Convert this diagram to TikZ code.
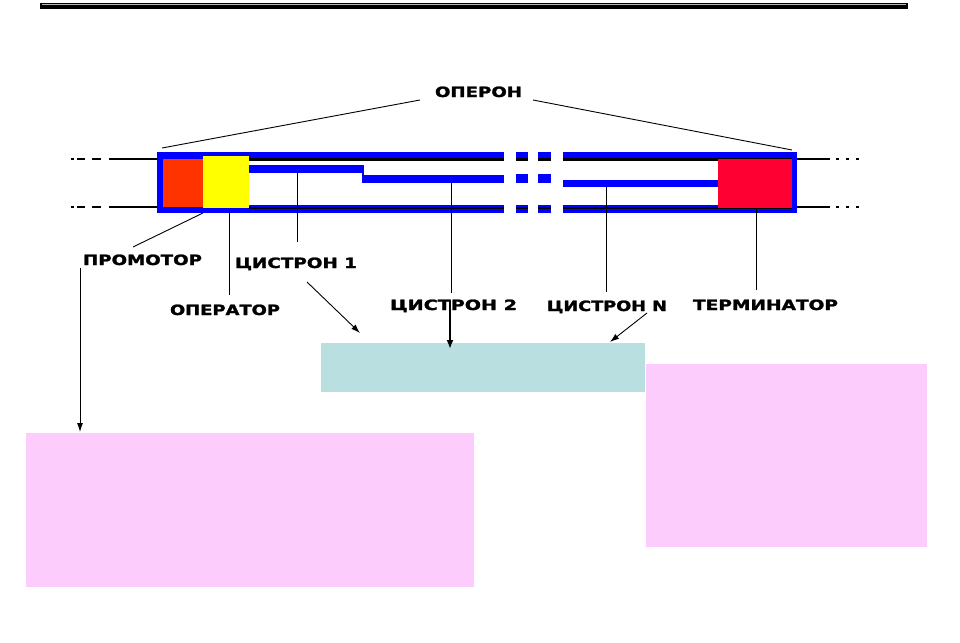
\documentclass[tikz,border=0pt]{standalone}
\usepackage{fontspec}
\setmainfont{DejaVu Sans}
\newfontfamily\lblfont{DejaVu Sans Bold}[FakeBold=1.6]
\usetikzlibrary{arrows.meta}
\definecolor{dnablue}{HTML}{0000FF}
\definecolor{promred}{HTML}{FF3300}
\definecolor{opyellow}{HTML}{FFFF00}
\definecolor{termred}{HTML}{FF0033}
\definecolor{boxcyan}{HTML}{BADFE1}
\definecolor{boxpink}{HTML}{FCCCFC}
\newcommand\lbltext[2]{\resizebox{#1pt}{10.5pt}{\lblfont #2}}
\tikzset{
  lbl/.style={inner sep=0pt, outer sep=0pt, anchor=base west},
  conn/.style={draw=black, line width=0.9pt},
  arr/.style={draw=black, line width=0.9pt, -{Latex[length=9pt,width=6pt]}},
  arrthick/.style={draw=black, line width=1.8pt, -{Latex[length=9pt,width=7pt]}},
  dna/.style={draw=black, line width=2pt},
  areabox/.style={inner sep=0pt, outer sep=0pt, draw=none}
}
\begin{document}
\begin{tikzpicture}[x=1pt,y=-1pt]
\useasboundingbox (0,0) rectangle (960,642);
% header bar
\fill[black] (40,3) rectangle (908,9);
\draw[gray!55, line width=0.7pt] (42,4.6) -- (906,4.6);

% DNA strands outside the operon
\draw[dna] (109,159) -- (157,159);
\draw[dna] (109,207) -- (157,207);
\draw[dna] (71,159) -- (74,159) (77,159) -- (85,159) (92,159) -- (101,159);
\draw[dna] (71,207) -- (74,207) (77,207) -- (85,207) (92,207) -- (101,207);
\draw[dna] (797,159) -- (830,159);
\draw[dna] (797,207) -- (830,207);
\draw[dna] (836,159) -- (839,159) (846,159) -- (849,159) (856,159) -- (859,159);
\draw[dna] (836,207) -- (839,207) (846,207) -- (849,207) (856,207) -- (859,207);

% operon frame: top and bottom bands with gaps
\foreach \a/\b in {157/504, 516/528, 538/551, 563/797}{
  \fill[dnablue] (\a,152) rectangle (\b,158.6);
  \fill[dnablue] (\a,205) rectangle (\b,213);
}
\foreach \a/\b in {249/504, 516/528, 538/551, 563/792}{
  \fill[black] (\a,158.4) rectangle (\b,160.6);
  \fill[black] (\a,206.8) rectangle (\b,209.4);
}
\fill[dnablue] (157,152) rectangle (162.5,213);
\fill[dnablue] (791.5,152) rectangle (797,213);

% promoter, operator, terminator
\fill[promred] (162.5,158.5) rectangle (203,207);
\fill[opyellow] (203,155.8) rectangle (249,208);
\fill[termred] (718,159) rectangle (791.5,208);

% cistron line
\fill[dnablue] (249,165) rectangle (364,173.3);
\fill[dnablue] (361.7,165) rectangle (364,183.3);
\fill[dnablue] (361.7,175) rectangle (504,183.3);
\fill[dnablue] (516,174.3) rectangle (528,183.3);
\fill[dnablue] (538,174.3) rectangle (551,183.3);
\fill[dnablue] (563,180) rectangle (718,187.3);

% anchor points on the operon
\coordinate (opL) at (162,148);
\coordinate (opR) at (792,150);
\coordinate (promPt) at (203,213);
\coordinate (operPt) at (229,209);
\coordinate (cis1Pt) at (297,173);
\coordinate (cis2Pt) at (451.5,183);
\coordinate (cisNPt) at (606,187);
\coordinate (termPt) at (756,208);

% labels
\node[lbl] (operon) at (435,97) {\lbltext{87}{ОПЕРОН}};
\node[lbl] (prom) at (83,265) {\lbltext{119}{ПРОМОТОР}};
\node[lbl] (oper) at (170,315) {\lbltext{110}{ОПЕРАТОР}};
\node[lbl] (cis1) at (235,268) {\lbltext{122}{ЦИСТРОН 1}};
\node[lbl] (cis2) at (390,310) {\lbltext{127}{ЦИСТРОН 2}};
\node[lbl] (cisN) at (547,311) {\lbltext{120}{ЦИСТРОН N}};
\node[lbl] (term) at (693,310) {\lbltext{145}{ТЕРМИНАТОР}};

% label ends of connectors
\coordinate (operonL) at (420,100);
\coordinate (operonR) at (533,100);
\coordinate (promEnd) at (133,247);
\coordinate (operEnd) at (229,295);
\coordinate (cis1End) at (297,242);
\coordinate (cis2End) at (451.5,293);
\coordinate (cisNEnd) at (606,292);
\coordinate (termEnd) at (756,290);

\draw[conn] (operonL) -- (opL);
\draw[conn] (operonR) -- (opR);
\draw[conn] (promPt) -- (promEnd);
\draw[conn] (operPt) -- (operEnd);
\draw[conn] (cis1Pt) -- (cis1End);
\draw[conn] (cis2Pt) -- (cis2End);
\draw[conn] (cisNPt) -- (cisNEnd);
\draw[conn] (termPt) -- (termEnd);

% boxes
\node[areabox, fill=boxcyan, minimum width=324pt, minimum height=49pt] (cyanbox) at (483,367.5) {};
\node[areabox, fill=boxpink, minimum width=448pt, minimum height=154pt] (leftbox) at (250,510) {};
\node[areabox, fill=boxpink, minimum width=281pt, minimum height=183pt] (rightbox) at (786.5,455.5) {};

% arrows
\coordinate (promStart) at (80,268);
\coordinate (promTip) at (80,432);
\coordinate (cis1Start) at (307,282);
\coordinate (cis1Tip) at (360,333);
\coordinate (cis2Start) at (450,300);
\coordinate (cis2Tip) at (450,349);
\coordinate (cisNStart) at (647,313);
\coordinate (cisNTip) at (610,342);
\draw[arr] (promStart) -- (promTip);
\draw[arr] (cis1Start) -- (cis1Tip);
\draw[arrthick] (cis2Start) -- (cis2Tip);
\draw[arr] (cisNStart) -- (cisNTip);
\end{tikzpicture}
\end{document}
